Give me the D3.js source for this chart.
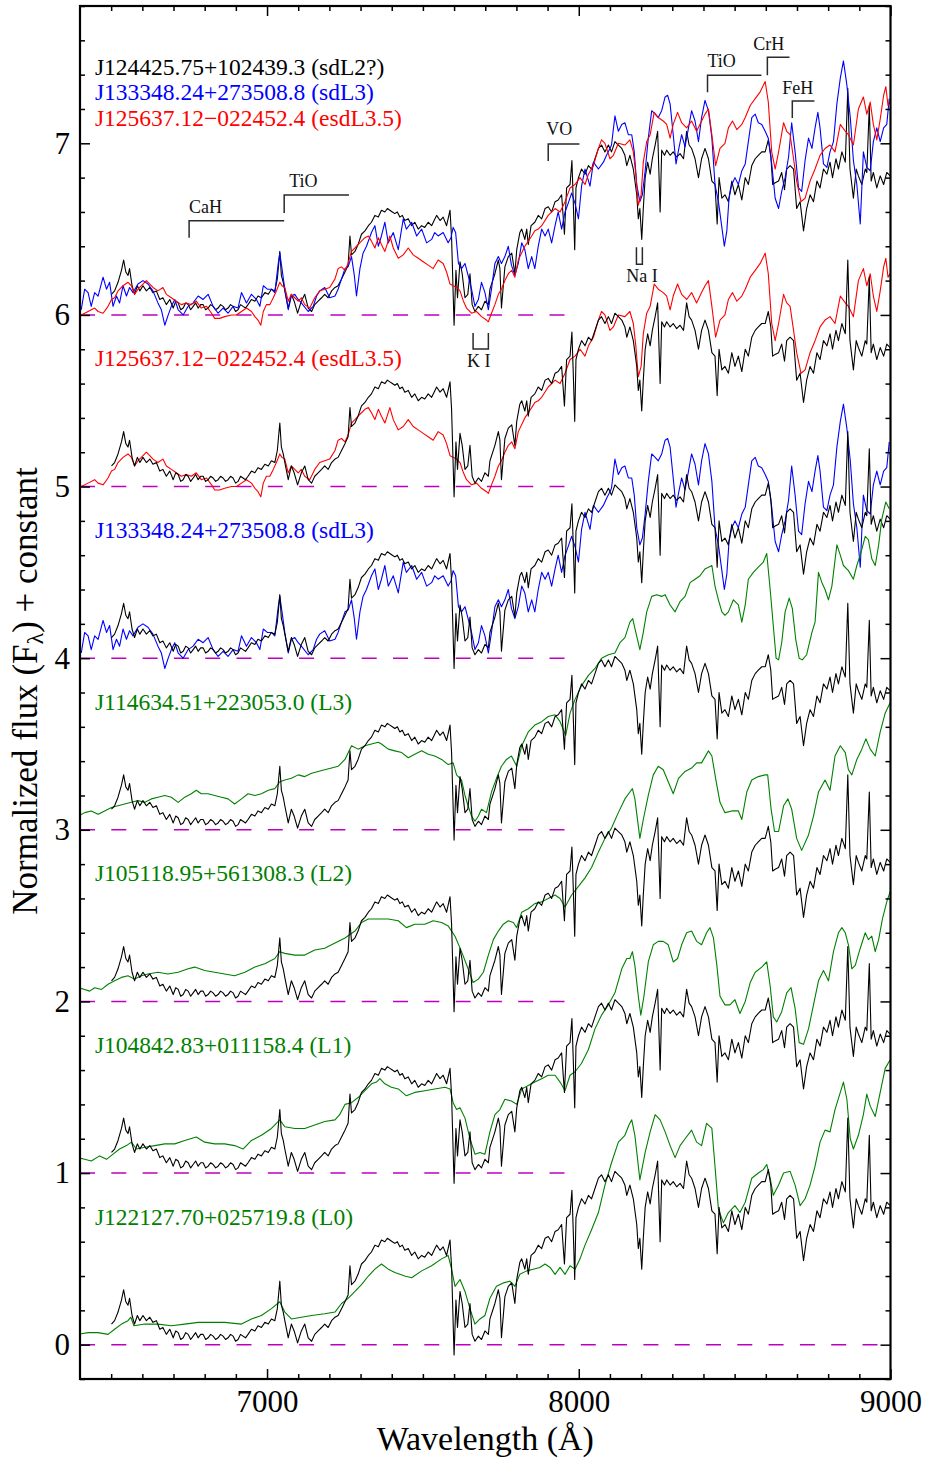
<!DOCTYPE html>
<html>
<head>
<meta charset="utf-8">
<script src="https://cdn.jsdelivr.net/npm/d3@7"></script>
<style>
  body { margin: 0; background: #fff; }
  svg { display: block; }
  text { font-family: "Liberation Serif", "Times New Roman", serif; }
</style>
</head>
<body>
<svg id="chart" width="929" height="1461"></svg>
<script>
// Spectra: [wavelength (Å), normalized flux] pairs, before the vertical offset.
const sdL2Spectrum = [
  [6501,0.12],[6511,0.14],[6522,0.19],[6533,0.26],[6540,0.32],[6547,0.25],[6554,0.23],[6559,0.27],[6567,0.17],[6575,0.12],
  [6584,0.17],[6592,0.14],[6602,0.17],[6613,0.14],[6624,0.16],[6634,0.13],[6645,0.14],[6656,0.09],[6666,0.10],[6677,0.06],
  [6688,0.09],[6699,0.04],[6707,0.08],[6715,0.07],[6723,0.03],[6731,0.04],[6739,0.07],[6747,0.06],[6755,0.03],[6763,0.05],
  [6771,0.07],[6779,0.04],[6787,0.06],[6795,0.06],[6803,0.03],[6811,0.04],[6819,0.06],[6827,0.05],[6835,0.03],[6843,0.04],
  [6851,0.06],[6859,0.05],[6867,0.03],[6875,0.04],[6883,0.06],[6891,0.05],[6899,0.02],[6907,0.03],[6915,0.06],[6923,0.05],
  [6931,0.04],[6939,0.06],[6950,0.09],[6961,0.08],[6971,0.11],[6982,0.10],[6993,0.13],[7004,0.12],[7014,0.15],[7025,0.14],
  [7033,0.21],[7041,0.37],[7046,0.23],[7052,0.19],[7057,0.14],[7068,0.04],[7078,0.12],[7087,0.08],[7098,0.01],[7110,0.08],
  [7121,0.12],[7132,0.04],[7143,0.02],[7153,0.06],[7164,0.08],[7175,0.10],[7185,0.12],[7196,0.10],[7207,0.14],[7218,0.16],
  [7228,0.17],[7239,0.21],[7250,0.25],[7260,0.29],[7266,0.46],[7271,0.35],[7282,0.37],[7292,0.41],[7303,0.47],[7314,0.49],
  [7325,0.52],[7335,0.54],[7346,0.58],[7357,0.57],[7367,0.61],[7378,0.60],[7386,0.62],[7394,0.61],[7402,0.60],[7410,0.59],
  [7418,0.60],[7426,0.57],[7434,0.58],[7442,0.55],[7453,0.56],[7464,0.52],[7474,0.54],[7485,0.50],[7496,0.52],[7506,0.51],
  [7517,0.54],[7528,0.52],[7536,0.55],[7544,0.58],[7555,0.55],[7565,0.57],[7576,0.52],[7587,0.61],[7592,0.45],[7600,-0.06],
  [7606,0.26],[7611,0.10],[7619,0.31],[7626,0.24],[7635,0.10],[7644,0.12],[7651,0.24],[7658,0.06],[7667,0.02],[7678,0.05],
  [7688,0.03],[7699,0.08],[7710,0.06],[7715,0.15],[7731,0.24],[7742,0.32],[7747,0.27],[7752,0.04],[7763,0.28],[7774,0.34],
  [7785,0.36],[7795,0.24],[7801,0.38],[7811,0.48],[7817,0.50],[7827,0.44],[7833,0.50],[7838,0.41],[7847,0.52],[7859,0.54],
  [7870,0.58],[7881,0.56],[7892,0.62],[7902,0.63],[7913,0.60],[7924,0.66],[7934,0.67],[7945,0.70],[7954,0.47],[7961,0.74],
  [7972,0.76],[7978,0.90],[7982,0.68],[7987,0.38],[7991,0.74],[7999,0.80],[8009,0.85],[8020,0.82],[8031,0.87],[8041,0.85],
  [8052,0.91],[8063,0.97],[8073,0.99],[8084,0.95],[8095,0.99],[8105,0.95],[8116,1.01],[8127,0.99],[8138,0.97],[8148,0.93],
  [8154,0.87],[8164,0.93],[8175,0.85],[8186,0.70],[8191,0.56],[8196,0.62],[8202,0.44],[8207,0.62],[8213,0.80],[8221,0.89],
  [8229,0.82],[8236,0.91],[8245,0.99],[8253,1.07],[8261,0.60],[8266,0.96],[8275,0.93],[8282,0.96],[8293,0.93],[8303,0.95],
  [8314,0.92],[8325,0.94],[8336,0.91],[8346,1.07],[8354,0.99],[8362,0.97],[8373,0.91],[8384,0.80],[8394,0.91],[8405,0.97],
  [8416,0.91],[8427,0.78],[8437,0.76],[8444,0.53],[8450,0.80],[8459,0.68],[8469,0.70],[8480,0.66],[8491,0.78],[8501,0.70],
  [8512,0.76],[8523,0.67],[8534,0.80],[8544,0.76],[8555,0.87],[8566,0.91],[8576,0.93],[8587,0.95],[8598,0.95],[8608,1.02],
  [8616,0.93],[8622,0.76],[8630,0.77],[8641,0.78],[8651,0.83],[8660,0.73],[8667,0.85],[8678,0.87],[8689,0.85],[8699,0.62],
  [8710,0.66],[8721,0.49],[8731,0.62],[8742,0.70],[8753,0.66],[8764,0.78],[8774,0.74],[8785,0.85],[8796,0.82],[8806,0.89],
  [8814,0.80],[8825,0.91],[8833,0.85],[8844,0.95],[8855,0.89],[8863,1.32],[8870,0.85],[8881,0.68],[8890,0.85],[8897,0.81],
  [8908,0.76],[8919,0.85],[8924,0.83],[8932,1.22],[8938,0.78],[8945,0.83],[8956,0.74],[8967,0.81],[8978,0.76],[8988,0.83],
  [8999,0.81]
];

const sdL3Spectrum = [
  [6404,0.03],[6415,0.15],[6426,0.13],[6436,0.05],[6447,0.13],[6458,0.11],[6474,0.22],[6485,0.15],[6495,0.19],[6506,0.05],
  [6517,0.11],[6527,0.07],[6538,0.17],[6549,0.11],[6559,0.16],[6570,0.13],[6586,0.18],[6602,0.20],[6618,0.18],[6634,0.14],
  [6650,0.07],[6661,0.03],[6672,-0.06],[6683,0.00],[6693,0.05],[6704,0.09],[6715,0.03],[6731,0.00],[6747,0.05],[6763,0.07],
  [6779,0.11],[6795,0.09],[6811,0.12],[6827,0.05],[6843,0.01],[6859,0.04],[6875,0.01],[6891,0.05],[6907,0.04],[6918,0.13],
  [6934,0.07],[6950,0.12],[6966,0.09],[6977,0.05],[6988,0.17],[7001,0.15],[7014,0.15],[7025,0.13],[7036,0.30],[7041,0.36],
  [7048,0.27],[7057,0.15],[7068,0.03],[7078,0.11],[7089,0.12],[7100,0.09],[7110,0.07],[7132,0.02],[7148,0.05],[7159,0.11],
  [7169,0.14],[7185,0.16],[7201,0.10],[7218,0.11],[7228,0.15],[7239,0.21],[7250,0.27],[7260,0.28],[7271,0.34],[7280,0.23],
  [7287,0.11],[7298,0.27],[7308,0.36],[7319,0.40],[7335,0.48],[7346,0.52],[7357,0.40],[7367,0.46],[7378,0.54],[7389,0.42],
  [7405,0.48],[7421,0.38],[7437,0.56],[7447,0.50],[7464,0.54],[7480,0.46],[7496,0.50],[7512,0.42],[7528,0.44],[7538,0.48],
  [7549,0.46],[7565,0.48],[7581,0.42],[7590,0.45],[7597,0.51],[7605,0.48],[7614,0.30],[7624,0.27],[7635,0.30],[7645,0.23],
  [7656,0.15],[7667,0.05],[7678,0.09],[7688,0.19],[7699,0.13],[7710,0.03],[7720,0.15],[7731,0.30],[7742,0.34],[7752,0.30],
  [7763,0.34],[7774,0.40],[7784,0.29],[7795,0.23],[7806,0.30],[7817,0.42],[7827,0.38],[7838,0.27],[7849,0.34],[7859,0.27],
  [7870,0.40],[7881,0.50],[7892,0.46],[7902,0.50],[7913,0.42],[7924,0.52],[7934,0.60],[7945,0.50],[7956,0.60],[7966,0.65],
  [7977,0.71],[7988,0.65],[7999,0.56],[8009,0.75],[8020,0.85],[8036,0.75],[8047,0.89],[8063,0.85],[8079,0.89],[8089,0.93],
  [8100,0.97],[8105,0.99],[8116,1.16],[8127,1.07],[8138,1.11],[8148,1.12],[8159,1.05],[8170,1.05],[8178,0.95],[8186,0.76],
  [8196,0.66],[8204,0.70],[8213,0.84],[8223,1.03],[8234,1.19],[8245,1.17],[8255,1.15],[8266,1.19],[8277,1.27],[8285,1.28],
  [8293,1.23],[8303,1.05],[8312,0.88],[8320,0.96],[8330,1.05],[8341,0.98],[8352,1.09],[8362,1.19],[8373,1.13],[8384,1.01],
  [8394,1.15],[8405,1.25],[8416,1.19],[8427,1.03],[8437,0.76],[8448,0.66],[8459,0.51],[8467,0.40],[8475,0.49],[8482,0.68],
  [8491,0.76],[8501,0.80],[8512,0.76],[8523,0.84],[8534,0.88],[8544,1.01],[8555,1.15],[8566,1.17],[8576,1.12],[8587,1.11],
  [8598,1.07],[8608,1.03],[8619,0.88],[8630,0.68],[8641,0.62],[8651,0.72],[8662,0.80],[8673,0.92],[8683,1.12],[8694,0.95],
  [8705,0.74],[8715,0.72],[8726,0.90],[8737,1.03],[8748,0.97],[8758,1.09],[8767,1.18],[8774,1.09],[8785,0.88],[8796,0.86],
  [8806,0.95],[8817,1.01],[8828,1.23],[8839,1.38],[8849,1.48],[8860,1.34],[8871,1.15],[8881,0.90],[8892,0.76],[8903,0.53],
  [8913,0.95],[8924,0.86],[8935,0.84],[8945,1.01],[8956,1.09],[8967,1.01],[8978,1.09],[8988,1.11],[8996,1.26]
];

const esdL35Spectrum = [
  [6404,0.00],[6426,0.02],[6447,0.04],[6458,0.02],[6474,0.01],[6490,0.05],[6501,0.09],[6511,0.10],[6522,0.14],[6538,0.17],
  [6554,0.19],[6565,0.17],[6575,0.12],[6586,0.15],[6602,0.18],[6613,0.20],[6624,0.18],[6634,0.16],[6650,0.14],[6666,0.16],
  [6677,0.12],[6693,0.10],[6709,0.08],[6725,0.06],[6741,0.07],[6757,0.06],[6773,0.08],[6789,0.04],[6806,0.05],[6822,0.01],
  [6832,-0.02],[6848,-0.02],[6864,-0.01],[6886,0.00],[6902,0.00],[6918,0.02],[6934,0.04],[6950,0.02],[6961,-0.01],[6971,-0.03],
  [6980,-0.06],[6988,0.02],[6998,0.06],[7009,0.06],[7020,0.10],[7030,0.14],[7041,0.19],[7048,0.17],[7057,0.16],[7068,0.08],
  [7078,0.12],[7089,0.10],[7100,0.08],[7110,0.10],[7121,0.06],[7137,0.04],[7153,0.10],[7169,0.14],[7185,0.15],[7201,0.16],
  [7218,0.21],[7228,0.27],[7239,0.28],[7250,0.26],[7260,0.30],[7271,0.37],[7282,0.39],[7292,0.41],[7303,0.43],[7314,0.45],
  [7325,0.46],[7335,0.43],[7346,0.39],[7357,0.45],[7367,0.41],[7378,0.37],[7394,0.46],[7405,0.39],[7421,0.33],[7437,0.35],
  [7453,0.39],[7469,0.35],[7485,0.33],[7501,0.31],[7517,0.29],[7533,0.27],[7549,0.32],[7565,0.30],[7576,0.25],[7587,0.18],
  [7597,0.17],[7608,0.16],[7619,0.14],[7630,0.08],[7640,0.04],[7656,0.01],[7672,0.02],[7688,-0.01],[7704,-0.03],[7710,-0.04],
  [7720,0.01],[7731,0.06],[7742,0.12],[7752,0.15],[7763,0.20],[7774,0.24],[7785,0.26],[7795,0.22],[7806,0.32],[7827,0.40],
  [7838,0.43],[7849,0.46],[7859,0.49],[7870,0.50],[7881,0.52],[7902,0.58],[7924,0.62],[7940,0.60],[7956,0.66],[7972,0.74],
  [7988,0.76],[8004,0.80],[8020,0.76],[8031,0.82],[8047,0.87],[8063,0.97],[8073,1.02],[8084,1.00],[8100,0.91],[8111,0.93],
  [8127,1.00],[8148,0.99],[8164,1.02],[8175,0.95],[8183,0.82],[8191,0.64],[8200,0.70],[8207,0.89],[8218,1.01],[8229,1.05],
  [8242,1.18],[8255,1.15],[8271,1.13],[8282,1.11],[8293,1.03],[8303,1.11],[8317,1.18],[8330,1.12],[8346,1.09],[8362,1.13],
  [8378,1.07],[8394,1.13],[8405,1.17],[8416,1.20],[8427,1.05],[8439,0.87],[8453,0.97],[8469,1.00],[8480,1.09],[8493,1.13],
  [8507,1.08],[8523,1.11],[8534,1.15],[8550,1.22],[8566,1.26],[8582,1.30],[8598,1.36],[8608,1.24],[8619,0.95],[8630,0.85],
  [8641,0.95],[8657,1.12],[8667,1.07],[8678,1.05],[8689,0.91],[8699,0.78],[8713,0.66],[8726,0.68],[8742,0.78],[8758,0.85],
  [8774,0.93],[8790,0.97],[8806,0.99],[8822,0.95],[8839,1.11],[8855,1.07],[8865,1.05],[8881,0.99],[8897,1.20],[8913,1.27],
  [8924,1.17],[8935,1.24],[8945,1.11],[8956,1.02],[8967,1.14],[8978,1.28],[8985,1.33],[8992,1.22],[8999,1.24]
];

const L3Spectrum = [
  [6394,0.08],[6415,0.10],[6436,0.11],[6458,0.09],[6479,0.11],[6501,0.13],[6522,0.14],[6543,0.15],[6565,0.16],[6586,0.17],
  [6608,0.16],[6629,0.18],[6650,0.19],[6672,0.20],[6693,0.19],[6715,0.16],[6736,0.19],[6757,0.21],[6773,0.23],[6789,0.21],
  [6811,0.21],[6832,0.20],[6854,0.19],[6875,0.18],[6896,0.15],[6918,0.18],[6939,0.21],[6961,0.20],[6982,0.21],[7004,0.23],
  [7025,0.24],[7041,0.28],[7057,0.29],[7078,0.30],[7100,0.32],[7121,0.31],[7143,0.33],[7164,0.34],[7185,0.35],[7207,0.36],
  [7228,0.37],[7250,0.41],[7271,0.49],[7292,0.47],[7314,0.49],[7335,0.50],[7357,0.51],[7367,0.50],[7389,0.47],[7410,0.46],
  [7432,0.45],[7453,0.42],[7474,0.44],[7496,0.46],[7517,0.44],[7538,0.43],[7560,0.41],[7581,0.38],[7597,0.39],[7608,0.32],
  [7624,0.29],[7635,0.20],[7645,0.14],[7656,0.08],[7667,0.05],[7678,0.08],[7688,0.12],[7704,0.10],[7720,0.22],[7736,0.30],
  [7752,0.37],[7768,0.41],[7784,0.43],[7801,0.37],[7817,0.49],[7838,0.57],[7859,0.61],[7881,0.63],[7902,0.66],[7924,0.67],
  [7940,0.63],[7958,0.55],[7972,0.68],[7988,0.76],[8009,0.84],[8031,0.90],[8052,0.94],[8073,1.00],[8095,1.02],[8116,1.03],
  [8132,1.09],[8148,1.12],[8164,1.21],[8173,1.23],[8183,1.15],[8196,1.05],[8207,1.15],[8218,1.27],[8234,1.36],[8250,1.37],
  [8266,1.36],[8277,1.37],[8293,1.31],[8309,1.27],[8325,1.33],[8341,1.36],[8357,1.44],[8373,1.46],[8389,1.48],[8405,1.52],
  [8416,1.53],[8427,1.54],[8437,1.42],[8448,1.34],[8459,1.27],[8469,1.25],[8480,1.27],[8496,1.34],[8512,1.31],[8523,1.21],
  [8534,1.31],[8544,1.46],[8560,1.50],[8576,1.53],[8592,1.56],[8603,1.61],[8614,1.40],[8624,1.19],[8633,1.00],[8641,0.99],
  [8651,1.09],[8662,1.27],[8675,1.35],[8685,1.29],[8696,1.11],[8707,1.00],[8717,0.99],[8731,1.02],[8748,1.15],[8758,1.21],
  [8769,1.50],[8780,1.44],[8790,1.40],[8801,1.34],[8812,1.42],[8828,1.66],[8839,1.60],[8849,1.54],[8865,1.51],[8881,1.46],
  [8892,1.54],[8903,1.60],[8919,1.71],[8929,1.69],[8940,1.58],[8951,1.54],[8962,1.66],[8972,1.81],[8985,1.91],[8996,1.87]
];

const L2Spectrum = [
  [6394,0.08],[6415,0.07],[6431,0.06],[6447,0.08],[6469,0.07],[6490,0.10],[6511,0.12],[6533,0.14],[6554,0.15],[6575,0.13],
  [6597,0.15],[6618,0.16],[6650,0.17],[6682,0.16],[6715,0.17],[6747,0.19],[6768,0.20],[6800,0.18],[6832,0.17],[6864,0.16],
  [6896,0.15],[6929,0.17],[6961,0.20],[6993,0.22],[7025,0.25],[7041,0.29],[7057,0.28],[7089,0.27],[7121,0.27],[7153,0.30],
  [7185,0.31],[7218,0.34],[7250,0.37],[7282,0.41],[7303,0.46],[7325,0.48],[7357,0.48],[7389,0.48],[7421,0.47],[7447,0.43],
  [7474,0.45],[7506,0.45],[7533,0.47],[7560,0.46],[7581,0.44],[7603,0.38],[7624,0.29],[7645,0.19],[7661,0.11],[7678,0.13],
  [7694,0.17],[7710,0.27],[7726,0.36],[7742,0.41],[7758,0.45],[7774,0.47],[7790,0.46],[7801,0.43],[7817,0.52],[7838,0.54],
  [7859,0.57],[7881,0.58],[7902,0.60],[7924,0.62],[7940,0.60],[7956,0.55],[7977,0.62],[7999,0.67],[8020,0.72],[8041,0.78],
  [8063,0.87],[8084,0.95],[8105,1.01],[8127,1.10],[8148,1.18],[8164,1.22],[8172,1.24],[8180,1.18],[8196,0.95],[8207,1.06],
  [8223,1.20],[8239,1.32],[8255,1.37],[8271,1.35],[8287,1.28],[8303,1.21],[8320,1.30],[8341,1.34],[8362,1.36],[8378,1.39],
  [8394,1.39],[8416,1.46],[8427,1.43],[8439,1.30],[8453,1.16],[8469,1.10],[8491,1.11],[8512,1.11],[8523,1.06],[8539,1.22],
  [8555,1.29],[8576,1.31],[8598,1.32],[8606,1.32],[8617,1.12],[8628,0.99],[8641,0.99],[8657,1.14],[8671,1.18],[8683,1.12],
  [8699,0.95],[8715,0.88],[8737,0.97],[8753,1.08],[8769,1.22],[8790,1.29],[8806,1.23],[8822,1.43],[8839,1.49],[8855,1.45],
  [8865,1.35],[8876,1.32],[8892,1.41],[8908,1.47],[8921,1.53],[8935,1.47],[8951,1.43],[8967,1.57],[8983,1.68],[8999,1.74]
];

const L1Spectrum = [
  [6394,0.09],[6415,0.08],[6436,0.07],[6463,0.10],[6485,0.08],[6506,0.11],[6527,0.14],[6549,0.16],[6565,0.18],[6581,0.14],
  [6608,0.15],[6640,0.16],[6672,0.17],[6704,0.17],[6736,0.19],[6773,0.21],[6800,0.18],[6832,0.17],[6864,0.17],[6896,0.16],
  [6923,0.14],[6950,0.19],[6982,0.22],[7014,0.26],[7041,0.31],[7057,0.27],[7089,0.26],[7121,0.26],[7153,0.28],[7185,0.30],
  [7218,0.31],[7233,0.34],[7250,0.40],[7271,0.41],[7292,0.44],[7314,0.48],[7335,0.52],[7351,0.53],[7362,0.55],[7378,0.52],
  [7399,0.50],[7421,0.49],[7447,0.45],[7474,0.47],[7506,0.48],[7538,0.49],[7571,0.50],[7587,0.49],[7597,0.41],[7608,0.37],
  [7619,0.38],[7635,0.32],[7651,0.20],[7667,0.11],[7683,0.12],[7699,0.11],[7715,0.24],[7731,0.34],[7747,0.37],[7763,0.43],
  [7784,0.42],[7801,0.40],[7817,0.49],[7838,0.51],[7859,0.53],[7881,0.55],[7902,0.57],[7924,0.57],[7940,0.53],[7956,0.48],
  [7972,0.57],[7988,0.59],[8009,0.64],[8031,0.72],[8052,0.84],[8073,0.92],[8095,0.98],[8116,1.05],[8138,1.19],[8154,1.25],
  [8164,1.25],[8172,1.29],[8180,1.21],[8191,1.03],[8199,0.92],[8209,1.03],[8223,1.23],[8239,1.33],[8255,1.35],[8271,1.35],
  [8287,1.33],[8303,1.23],[8317,1.25],[8330,1.33],[8346,1.40],[8362,1.41],[8378,1.35],[8394,1.33],[8410,1.40],[8421,1.43],
  [8432,1.37],[8443,1.21],[8453,1.03],[8469,0.98],[8485,0.98],[8501,1.01],[8517,0.93],[8534,1.00],[8550,1.11],[8566,1.17],
  [8587,1.20],[8603,1.23],[8614,1.09],[8624,0.91],[8635,0.88],[8651,0.94],[8667,1.05],[8681,1.08],[8694,0.96],[8707,0.76],
  [8721,0.75],[8737,0.84],[8753,0.98],[8769,1.12],[8785,1.18],[8801,1.12],[8817,1.29],[8833,1.40],[8844,1.43],[8855,1.40],
  [8865,1.33],[8876,1.19],[8887,1.21],[8903,1.31],[8919,1.40],[8929,1.36],[8940,1.38],[8951,1.29],[8962,1.36],[8974,1.48],
  [8988,1.58],[8999,1.64]
];

const L0Spectrum = [
  [6394,0.06],[6426,0.07],[6458,0.07],[6490,0.06],[6511,0.09],[6533,0.12],[6554,0.14],[6563,0.16],[6573,0.11],[6608,0.12],
  [6650,0.12],[6693,0.11],[6736,0.12],[6779,0.13],[6821,0.13],[6864,0.13],[6918,0.12],[6950,0.15],[6982,0.17],[7014,0.21],
  [7041,0.25],[7057,0.19],[7078,0.15],[7110,0.16],[7143,0.17],[7185,0.18],[7218,0.19],[7239,0.24],[7260,0.27],[7282,0.31],
  [7303,0.35],[7325,0.40],[7346,0.44],[7367,0.47],[7389,0.44],[7410,0.42],[7442,0.40],[7464,0.39],[7496,0.43],[7528,0.46],
  [7560,0.50],[7581,0.52],[7592,0.44],[7603,0.34],[7619,0.38],[7635,0.31],[7651,0.21],[7667,0.12],[7683,0.15],[7699,0.17],
  [7715,0.27],[7736,0.34],[7758,0.36],[7779,0.37],[7795,0.34],[7811,0.41],[7833,0.43],[7854,0.44],[7875,0.45],[7892,0.47],
  [7908,0.45],[7924,0.41],[7940,0.45],[7956,0.41],[7972,0.46],[7988,0.44],[8004,0.50],[8020,0.58],[8041,0.67],[8063,0.77],
  [8084,0.93],[8105,1.06],[8127,1.18],[8148,1.22],[8161,1.28],[8170,1.31],[8180,1.22],[8196,0.96],[8213,1.12],[8229,1.24],
  [8245,1.34],[8261,1.31],[8277,1.24],[8293,1.16],[8309,1.09],[8325,1.16],[8341,1.20],[8362,1.25],[8378,1.18],[8394,1.16],
  [8410,1.29],[8427,1.26],[8437,1.04],[8448,0.79],[8464,0.71],[8480,0.77],[8501,0.81],[8517,0.77],[8534,0.83],[8555,0.97],
  [8576,1.00],[8592,1.02],[8603,1.05],[8614,0.97],[8624,0.87],[8641,0.93],[8657,1.00],[8678,1.01],[8694,0.93],[8710,0.81],
  [8726,0.85],[8742,0.93],[8758,1.04],[8774,1.18],[8790,1.25],[8806,1.24],[8822,1.37],[8839,1.47],[8849,1.53],[8860,1.43],
  [8871,1.20],[8881,1.14],[8897,1.22],[8913,1.34],[8924,1.46],[8935,1.39],[8951,1.33],[8967,1.47],[8983,1.61],[8999,1.66]
];

// Object names, spectral types and line colours
const objectNames = [
  "J124425.75+102439.3 (sdL2?)",
  "J133348.24+273508.8 (sdL3)",
  "J125637.12\u2212022452.4 (esdL3.5)",
  "J114634.51+223053.0 (L3)",
  "J105118.95+561308.3 (L2)",
  "J104842.83+011158.4 (L1)",
  "J122127.70+025719.8 (L0)"
];
const objectColors = ["#000000", "#0000ff", "#ff0000", "#008000", "#008000", "#008000", "#008000"];
const objectSpectra = [sdL2Spectrum, sdL3Spectrum, esdL35Spectrum, L3Spectrum, L2Spectrum, L1Spectrum, L0Spectrum];

// Vertical offsets and which comparison objects are stacked at each one
const offsets = [6, 5, 4, 3, 2, 1, 0];
const comparisonsAtOffset = [[1, 2], [2], [1], [3], [4], [5], [6]];

// Axis ticks
const xMajorTicks = [7000, 8000, 9000];
const xMinorTicks = d3.range(6500, 9000, 100).filter(v => v % 1000 !== 0);
const yMajorTicks = [0, 1, 2, 3, 4, 5, 6, 7];
const yMinorTicks = d3.range(-0.2, 7.81, 0.2).map(v => +v.toFixed(1)).filter(v => Math.abs(v - Math.round(v)) > 1e-6);

// Feature markers: bracket from x0 to x1 at height y, with a drop at x0
const bandMarks = [
  { label: "CaH", x0: 6750, x1: 7055, y: 6.548, drop: 0.099, tx: 6750, ty: 6.594 },
  { label: "TiO", x0: 7055, x1: 7263, y: 6.699, drop: 0.105, tx: 7071, ty: 6.745 },
  { label: "VO",  x0: 7902, x1: 8002, y: 6.996, drop: 0.099, tx: 7896, ty: 7.048 },
  { label: "TiO", x0: 8413, x1: 8586, y: 7.397, drop: 0.099, tx: 8413, ty: 7.443 },
  { label: "CrH", x0: 8605, x1: 8676, y: 7.502, drop: 0.105, tx: 8560, ty: 7.543 },
  { label: "FeH", x0: 8685, x1: 8756, y: 7.246, drop: 0.099, tx: 8653, ty: 7.290 }
];
// Atomic line doublets: U-shaped marker
const lineMarks = [
  { label: "Na I", x0: 8185, x1: 8204, top: 6.394, bottom: 6.295, tx: 8203, ty: 6.193 },
  { label: "K I",  x0: 7661, x1: 7710, top: 5.894, bottom: 5.801, tx: 7679, ty: 5.698 }
];

const width = 929, height = 1461;
const plot = { left: 80, right: 890.5, top: 6, bottom: 1379 };

const x = d3.scaleLinear().domain([6400, 9000]).range([plot.left, plot.right]);
const y = d3.scaleLinear().domain([-0.2, 7.8]).range([plot.bottom, plot.top]);

const svg = d3.select("#chart");

svg.append("defs").append("clipPath").attr("id", "plot-clip")
  .append("rect")
  .attr("x", plot.left).attr("y", plot.top)
  .attr("width", plot.right - plot.left).attr("height", plot.bottom - plot.top);

const dataLayer = svg.append("g").attr("clip-path", "url(#plot-clip)");

// Zero-level reference lines for each offset
dataLayer.selectAll("line.zero")
  .data(offsets)
  .join("line")
  .attr("class", "zero")
  .attr("x1", x(6400))
  .attr("x2", d => d === 0 ? x(9000) : x(8000))
  .attr("y1", d => y(d)).attr("y2", d => y(d))
  .attr("stroke", "#bf00bf")
  .attr("stroke-width", 1.5)
  .attr("stroke-dasharray", "15,16.3");

const line = d3.line().x(d => x(d[0])).y(d => y(d[1]));

offsets.forEach((off, i) => {
  const g = dataLayer.append("g");
  const shifted = data => data.map(p => [p[0], p[1] + off]);
  const drawOrder = off === 6 ? [0, ...comparisonsAtOffset[i]] : [...comparisonsAtOffset[i], 0];
  drawOrder.forEach(k => {
    g.append("path")
      .datum(shifted(objectSpectra[k]))
      .attr("d", line)
      .attr("fill", "none")
      .attr("stroke", objectColors[k])
      .attr("stroke-width", 1.1)
      .attr("stroke-linejoin", "round");
  });
});

// Object labels
const labelFont = 23.5;
const topLabelY = [7.398, 7.252, 7.101];
[0, 1, 2].forEach((k, j) => {
  svg.append("text")
    .attr("x", x(6448)).attr("y", y(topLabelY[j]))
    .attr("fill", objectColors[k])
    .attr("font-size", labelFont)
    .text(objectNames[k]);
});
offsets.slice(1).forEach((off, j) => {
  const k = comparisonsAtOffset[j + 1][0];
  svg.append("text")
    .attr("x", x(6448)).attr("y", y(off + 0.70))
    .attr("fill", objectColors[k])
    .attr("font-size", labelFont)
    .text(objectNames[k]);
});

// Feature markers
const markColor = "#2a2a2a";
const marks = svg.append("g");
bandMarks.forEach(m => {
  marks.append("path")
    .attr("d", `M${x(m.x0)},${y(m.y - m.drop)}V${y(m.y)}H${x(m.x1)}`)
    .attr("fill", "none").attr("stroke", markColor).attr("stroke-width", 1.5);
  marks.append("text")
    .attr("x", x(m.tx)).attr("y", y(m.ty))
    .attr("font-size", 18).attr("fill", "#111")
    .text(m.label);
});
lineMarks.forEach(m => {
  marks.append("path")
    .attr("d", `M${x(m.x0)},${y(m.top)}V${y(m.bottom)}H${x(m.x1)}V${y(m.top)}`)
    .attr("fill", "none").attr("stroke", markColor).attr("stroke-width", 1.5);
  marks.append("text")
    .attr("x", x(m.tx)).attr("y", y(m.ty))
    .attr("text-anchor", "middle")
    .attr("font-size", 18).attr("fill", "#111")
    .text(m.label);
});

// Axes: inward ticks on all four sides
const tickFont = 31;
function styleAxis(g) {
  g.select(".domain").remove();
  g.selectAll(".tick line").attr("stroke", "#000").attr("stroke-width", 1.5);
  g.selectAll("text").attr("font-size", tickFont).attr("fill", "#000")
    .attr("font-family", '"Liberation Serif", "Times New Roman", serif');
}

svg.append("g").attr("transform", `translate(0,${plot.bottom})`)
  .call(d3.axisBottom(x).tickValues(xMajorTicks).tickSize(-10).tickPadding(11).tickFormat(d3.format("d")))
  .call(styleAxis);
svg.append("g").attr("transform", `translate(0,${plot.bottom})`)
  .call(d3.axisBottom(x).tickValues(xMinorTicks).tickSize(-5).tickFormat(""))
  .call(styleAxis);
svg.append("g").attr("transform", `translate(0,${plot.top})`)
  .call(d3.axisTop(x).tickValues(xMajorTicks).tickSize(-10).tickFormat(""))
  .call(styleAxis);
svg.append("g").attr("transform", `translate(0,${plot.top})`)
  .call(d3.axisTop(x).tickValues(xMinorTicks).tickSize(-5).tickFormat(""))
  .call(styleAxis);

svg.append("g").attr("transform", `translate(${plot.left},0)`)
  .call(d3.axisLeft(y).tickValues(yMajorTicks).tickSize(-10).tickPadding(10).tickFormat(d3.format("d")))
  .call(styleAxis);
svg.append("g").attr("transform", `translate(${plot.left},0)`)
  .call(d3.axisLeft(y).tickValues(yMinorTicks).tickSize(-5).tickFormat(""))
  .call(styleAxis);
svg.append("g").attr("transform", `translate(${plot.right},0)`)
  .call(d3.axisRight(y).tickValues(yMajorTicks).tickSize(-10).tickFormat(""))
  .call(styleAxis);
svg.append("g").attr("transform", `translate(${plot.right},0)`)
  .call(d3.axisRight(y).tickValues(yMinorTicks).tickSize(-5).tickFormat(""))
  .call(styleAxis);

// Frame
svg.append("rect")
  .attr("x", plot.left).attr("y", plot.top)
  .attr("width", plot.right - plot.left).attr("height", plot.bottom - plot.top)
  .attr("fill", "none").attr("stroke", "#000").attr("stroke-width", 2.2);

// Axis titles
svg.append("text")
  .attr("x", (plot.left + plot.right) / 2).attr("y", 1450)
  .attr("text-anchor", "middle").attr("font-size", 34)
  .text("Wavelength (\u00c5)");

const yTitle = svg.append("text")
  .attr("transform", `translate(37,${691}) rotate(-90)`)
  .attr("text-anchor", "middle").attr("font-size", 35);
yTitle.append("tspan").text("Normalized flux (F");
yTitle.append("tspan").attr("font-size", 24).attr("dy", 6).text("\u03bb");
yTitle.append("tspan").attr("dy", -6).text(") + constant");
</script>
</body>
</html>
